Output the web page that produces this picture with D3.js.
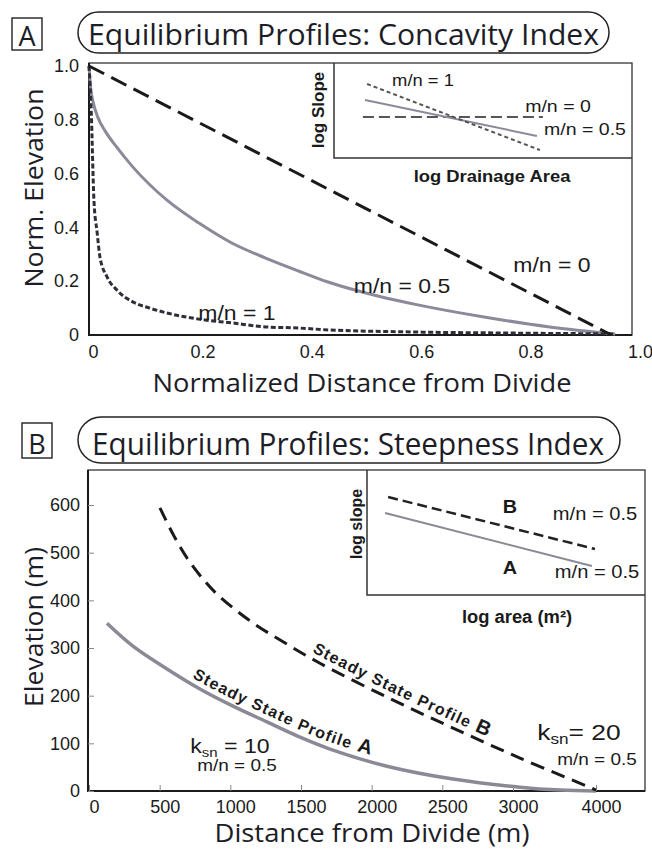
<!DOCTYPE html>
<html>
<head>
<meta charset="utf-8">
<script src="https://cdn.jsdelivr.net/npm/d3@7"></script>
<style>
  html, body { margin: 0; padding: 0; background: #fff; }
  svg { display: block; }
</style>
</head>
<body>
<div id="chart"></div>
<script>
// fonts
const SANS = "'Liberation Sans', Arial, Helvetica, sans-serif";
const TITLE = "'Open Sans', 'Noto Sans', sans-serif";

// ---- panel A data (normalized distance, normalized elevation) ----
const aTicks = [0, 0.2, 0.4, 0.6, 0.8, 1.0];
const aTickLabels = ["0", "0.2", "0.4", "0.6", "0.8", "1.0"];

const profMN0 = [[0, 1], [0.955, 0]];
const profMN05 = [[0, 1], [0.003, 0.92], [0.008, 0.862], [0.016, 0.81], [0.030, 0.757],
  [0.050, 0.70], [0.080, 0.625], [0.142, 0.502], [0.201, 0.416], [0.261, 0.342],
  [0.323, 0.286], [0.383, 0.238], [0.437, 0.197], [0.528, 0.145], [0.601, 0.112],
  [0.722, 0.067], [0.842, 0.030], [0.962, 0.004]];
const profMN1 = [[0, 1], [0.004, 0.836], [0.009, 0.502], [0.015, 0.379], [0.020, 0.290],
  [0.033, 0.216], [0.051, 0.167], [0.080, 0.123], [0.111, 0.100], [0.142, 0.082],
  [0.201, 0.059], [0.261, 0.045], [0.323, 0.030], [0.383, 0.026], [0.437, 0.019],
  [0.601, 0.011], [0.782, 0.007], [0.962, 0.004]];

// inset A (log area, log slope), schematic 0..1
const insetAMN0 = [[0.097, 0.432], [0.701, 0.432]];
const insetAMN05 = [[0.104, 0.611], [0.681, 0.232]];
const insetAMN1 = [[0.111, 0.779], [0.691, 0.084]];

// ---- panel B data (distance m, elevation m) ----
const bXTicks = [0, 500, 1000, 1500, 2000, 2500, 3000, 4000];
const bXLabels = ["0", "500", "1000", "1500", "2000", "2500", "3000", "4000"];
const bYTicks = [0, 100, 200, 300, 400, 500, 600];
const bYLabels = ["0", "100", "200", "300", "400", "500", "600"];

const profileA = [[127, 352], [311, 304], [552, 256], [785, 214], [1019, 178], [1259, 145],
  [1493, 113], [1705, 88], [2108, 52], [2576, 25], [3084, 8], [3566, 2], [4000, 0]];
const profileB = [[502, 594], [594, 539], [693, 489], [800, 447], [906, 413], [1139, 357],
  [1373, 313], [1634, 268], [2108, 197], [2576, 132], [3084, 69], [3892, 10], [4000, 2]];

// inset B
const insetBProfB = [[0.076, 0.784], [0.82, 0.368]];
const insetBProfA = [[0.065, 0.656], [0.809, 0.232]];


var svg = d3.select("#chart")
  .append("svg")
    .attr("width", 652)
    .attr("height", 850);

// plain text helper, slightly widened like the scanned figure
function label(x, y, str, size, opts) {
  opts = opts || {};
  return svg.append("text")
    .attr("transform", "translate(" + x + "," + y + ") scale(" + (opts.sx || 1.15) + ",1)")
    .attr("text-anchor", opts.anchor || "middle")
    .style("font-family", opts.font || SANS)
    .style("font-size", size + "px")
    .style("font-weight", opts.weight || "normal")
    .attr("fill", "#1a1a1a")
    .text(str);
}

function ksn(x, y, value, size, sx) {
  var t = svg.append("text")
    .attr("transform", "translate(" + x + "," + y + ") scale(" + sx + ",1)")
    .attr("text-anchor", "middle")
    .style("font-family", SANS)
    .style("font-size", size + "px")
    .attr("fill", "#1a1a1a");
  t.append("tspan").text("k");
  t.append("tspan").attr("dy", 4).style("font-size", (size * 0.65) + "px").text("sn");
  t.append("tspan").attr("dy", -4).text(value);
}

function panelTitle(letter, bx, by, bw, bh, px, py, pw, ph, tx, ty, tlen, str, size) {
  svg.append("rect")
    .attr("x", bx).attr("y", by).attr("width", bw).attr("height", bh)
    .attr("fill", "none").attr("stroke", "#222").attr("stroke-width", 1.4);
  svg.append("text")
    .attr("x", bx + bw / 2).attr("y", by + bh - 4)
    .attr("text-anchor", "middle")
    .style("font-family", TITLE)
    .style("font-size", "27px")
    .attr("fill", "#1d1d28")
    .text(letter);
  svg.append("rect")
    .attr("x", px).attr("y", py).attr("width", pw).attr("height", ph)
    .attr("rx", ph / 2).attr("ry", ph / 2)
    .attr("fill", "none").attr("stroke", "#222").attr("stroke-width", 1.5);
  svg.append("text")
    .attr("x", tx).attr("y", ty)
    .attr("textLength", tlen)
    .attr("lengthAdjust", "spacingAndGlyphs")
    .style("font-family", TITLE)
    .style("font-size", size + "px")
    .attr("fill", "#1d1d28")
    .text(str);
}

function frame(x0, y0, x1, y1) {
  svg.append("rect")
    .attr("x", x0).attr("y", y0).attr("width", x1 - x0).attr("height", y1 - y0)
    .attr("fill", "none").attr("stroke", "#333").attr("stroke-width", 1.3);
  svg.append("path")
    .attr("d", "M" + x0 + "," + y0 + "V" + y1 + "H" + x1)
    .attr("fill", "none").attr("stroke", "#1a1a1a").attr("stroke-width", 2);
}

function styleAxis(g, size) {
  g.attr("font-family", SANS).attr("font-size", size);
  g.selectAll(".tick text").attr("fill", "#1a1a1a");
}

// x position on a path -> length along it (for labels that follow a curve)
function offsetAtX(node, x) {
  var lo = 0, hi = node.getTotalLength();
  for (var i = 0; i < 40; i++) {
    var mid = (lo + hi) / 2;
    if (node.getPointAtLength(mid).x < x) lo = mid; else hi = mid;
  }
  return lo;
}


// ================= PANEL A =================
var create_panelA = function() {
  panelTitle("A", 12, 18, 30, 32, 78, 12, 531, 41, 88, 45, 511,
    "Equilibrium Profiles: Concavity Index", 30);

  var x = d3.scaleLinear().domain([0, 1]).range([89, 636]);
  var y = d3.scaleLinear().domain([0, 1]).range([335, 66]);

  frame(89, 63, 632, 335);

  svg.append("g")
    .attr("transform", "translate(0,335)")
    .call(d3.axisBottom(x).tickValues(aTicks)
      .tickFormat(function(d, i) { return aTickLabels[i]; })
      .tickSize(0).tickPadding(10))
    .call(function(g) { g.select(".domain").remove(); styleAxis(g, 18); })
    .selectAll(".tick text").attr("dx", 4);

  svg.append("g")
    .attr("transform", "translate(89,0)")
    .call(d3.axisLeft(y).tickValues(aTicks)
      .tickFormat(function(d, i) { return aTickLabels[i]; })
      .tickSize(0).tickPadding(10))
    .call(function(g) { g.select(".domain").remove(); styleAxis(g, 18); });

  var line = d3.line()
    .x(function(d) { return x(d[0]); })
    .y(function(d) { return y(d[1]); })
    .curve(d3.curveMonotoneX);

  svg.append("path").attr("d", line(profMN05))
    .attr("fill", "none").attr("stroke", "#8a8a9a").attr("stroke-width", 3);
  svg.append("path").attr("d", line(profMN1))
    .attr("fill", "none").attr("stroke", "#2e2e38").attr("stroke-width", 3)
    .attr("stroke-dasharray", "5,2.5");
  svg.append("path").attr("d", line(profMN0))
    .attr("fill", "none").attr("stroke", "#1a1a1a").attr("stroke-width", 3)
    .attr("stroke-dasharray", "17,8");

  label(552, 272, "m/n = 0", 20);
  label(402, 293, "m/n = 0.5", 20);
  label(237, 320, "m/n = 1", 20);

  // axis titles
  svg.append("text")
    .attr("transform", "translate(43,188) rotate(-90)")
    .attr("text-anchor", "middle")
    .attr("textLength", 199).attr("lengthAdjust", "spacingAndGlyphs")
    .style("font-family", TITLE).style("font-size", "26px")
    .attr("fill", "#1d1d28")
    .text("Norm. Elevation");
  svg.append("text")
    .attr("x", 362).attr("y", 392)
    .attr("text-anchor", "middle")
    .attr("textLength", 419).attr("lengthAdjust", "spacingAndGlyphs")
    .style("font-family", TITLE).style("font-size", "25px")
    .attr("fill", "#1d1d28")
    .text("Normalized Distance from Divide");

  // inset: log slope vs log drainage area
  var ix = d3.scaleLinear().domain([0, 1]).range([334, 632]);
  var iy = d3.scaleLinear().domain([0, 1]).range([158, 63]);
  svg.append("path")
    .attr("d", "M334,63V158H632")
    .attr("fill", "none").attr("stroke", "#333").attr("stroke-width", 1.5);

  var iline = d3.line()
    .x(function(d) { return ix(d[0]); })
    .y(function(d) { return iy(d[1]); });

  svg.append("path").attr("d", iline(insetAMN0))
    .attr("fill", "none").attr("stroke", "#555").attr("stroke-width", 2)
    .attr("stroke-dasharray", "11,5");
  svg.append("path").attr("d", iline(insetAMN05))
    .attr("fill", "none").attr("stroke", "#8a8a9a").attr("stroke-width", 2);
  svg.append("path").attr("d", iline(insetAMN1))
    .attr("fill", "none").attr("stroke", "#555").attr("stroke-width", 2)
    .attr("stroke-dasharray", "4,3");

  label(423, 86, "m/n = 1", 16);
  label(558, 112, "m/n = 0", 17);
  label(585, 135, "m/n = 0.5", 17);

  svg.append("text")
    .attr("transform", "translate(324,110) rotate(-90)")
    .attr("text-anchor", "middle")
    .style("font-family", SANS).style("font-size", "17px").style("font-weight", "bold")
    .attr("fill", "#1a1a1a")
    .text("log Slope");
  label(492, 182, "log Drainage Area", 16, {weight: "bold"});
};


// ================= PANEL B =================
var create_panelB = function() {
  panelTitle("B", 22, 423, 30, 35, 78, 417, 542, 46, 92, 455, 512,
    "Equilibrium Profiles: Steepness Index", 31);

  var x = d3.scaleLinear().domain([0, 3000, 4000]).range([89, 513, 596]);
  var y = d3.scaleLinear().domain([0, 600]).range([791, 505]);

  frame(88, 470, 645, 791);

  svg.append("g")
    .attr("transform", "translate(0,791)")
    .call(d3.axisBottom(x).tickValues(bXTicks)
      .tickFormat(function(d, i) { return bXLabels[i]; })
      .tickSizeInner(-6).tickSizeOuter(0).tickPadding(9))
    .call(function(g) {
      g.select(".domain").remove();
      g.selectAll(".tick line").attr("stroke", "#888");
      styleAxis(g, 18);
    })
    .selectAll(".tick text").attr("dx", 5);

  svg.append("g")
    .attr("transform", "translate(88,0)")
    .call(d3.axisLeft(y).tickValues(bYTicks)
      .tickFormat(function(d, i) { return bYLabels[i]; })
      .tickSizeInner(-6).tickSizeOuter(0).tickPadding(8))
    .call(function(g) {
      g.select(".domain").remove();
      g.selectAll(".tick line").attr("stroke", "#888");
      styleAxis(g, 18);
    });

  var line = d3.line()
    .x(function(d) { return x(d[0]); })
    .y(function(d) { return y(d[1]); })
    .curve(d3.curveCatmullRom);

  svg.append("path").attr("d", line(profileA))
    .attr("fill", "none").attr("stroke", "#8a8a96").attr("stroke-width", 3.5);
  svg.append("path").attr("d", line(profileB))
    .attr("fill", "none").attr("stroke", "#1a1a1a").attr("stroke-width", 3)
    .attr("stroke-dasharray", "14,8");

  // curved labels riding on the profiles
  var shifted = d3.line()
    .x(function(d) { return x(d[0]); })
    .y(function(d) { return y(d[1]) - 7; })
    .curve(d3.curveCatmullRom);
  var defs = svg.append("defs");
  var pa = defs.append("path").attr("id", "tpA").attr("d", shifted(profileA));
  var pb = defs.append("path").attr("id", "tpB").attr("d", shifted(profileB));

  [[pa, "#tpA", 192, "A"], [pb, "#tpB", 312, "B"]].forEach(function(p) {
    var t = svg.append("text")
      .style("font-family", SANS).style("font-size", "16px").style("font-weight", "bold")
      .style("letter-spacing", "1.2px")
      .attr("fill", "#1a1a1a");
    var tp = t.append("textPath")
      .attr("href", p[1])
      .attr("startOffset", offsetAtX(p[0].node(), p[2]));
    tp.append("tspan").text("Steady State Profile");
    tp.append("tspan").attr("dx", 6).style("font-size", "20px").text(p[3]);
  });

  ksn(230, 753, " = 10", 21, 1.1);
  label(237, 771, "m/n = 0.5", 16.5);
  ksn(579, 740, "= 20", 22, 1.2);
  label(597, 765, "m/n = 0.5", 16.5);

  svg.append("text")
    .attr("transform", "translate(43,627) rotate(-90)")
    .attr("text-anchor", "middle")
    .attr("textLength", 160).attr("lengthAdjust", "spacingAndGlyphs")
    .style("font-family", TITLE).style("font-size", "26px")
    .attr("fill", "#1d1d28")
    .text("Elevation (m)");
  svg.append("text")
    .attr("x", 372).attr("y", 842)
    .attr("text-anchor", "middle")
    .attr("textLength", 315).attr("lengthAdjust", "spacingAndGlyphs")
    .style("font-family", TITLE).style("font-size", "26px")
    .attr("fill", "#1d1d28")
    .text("Distance from Divide (m)");

  // inset: log slope vs log area
  var ix = d3.scaleLinear().domain([0, 1]).range([367, 645]);
  var iy = d3.scaleLinear().domain([0, 1]).range([595, 470]);
  svg.append("path")
    .attr("d", "M367,470V595H645")
    .attr("fill", "none").attr("stroke", "#333").attr("stroke-width", 1.5);

  var iline = d3.line()
    .x(function(d) { return ix(d[0]); })
    .y(function(d) { return iy(d[1]); });
  svg.append("path").attr("d", iline(insetBProfB))
    .attr("fill", "none").attr("stroke", "#222").attr("stroke-width", 2.5)
    .attr("stroke-dasharray", "10,5");
  svg.append("path").attr("d", iline(insetBProfA))
    .attr("fill", "none").attr("stroke", "#8a8a96").attr("stroke-width", 2);

  label(510, 513, "B", 18, {weight: "bold", sx: 1.1});
  label(510, 574, "A", 18, {weight: "bold", sx: 1.1});
  label(595, 520, "m/n = 0.5", 17.5);
  label(597, 578, "m/n = 0.5", 17.5);

  svg.append("text")
    .attr("transform", "translate(362,524) rotate(-90)")
    .attr("text-anchor", "middle")
    .style("font-family", SANS).style("font-size", "16px").style("font-weight", "bold")
    .attr("fill", "#1a1a1a")
    .text("log slope");
  label(517, 623, "log area (m²)", 17.5, {weight: "bold", sx: 1.05});
};


create_panelA();
create_panelB();
</script>
</body>
</html>
